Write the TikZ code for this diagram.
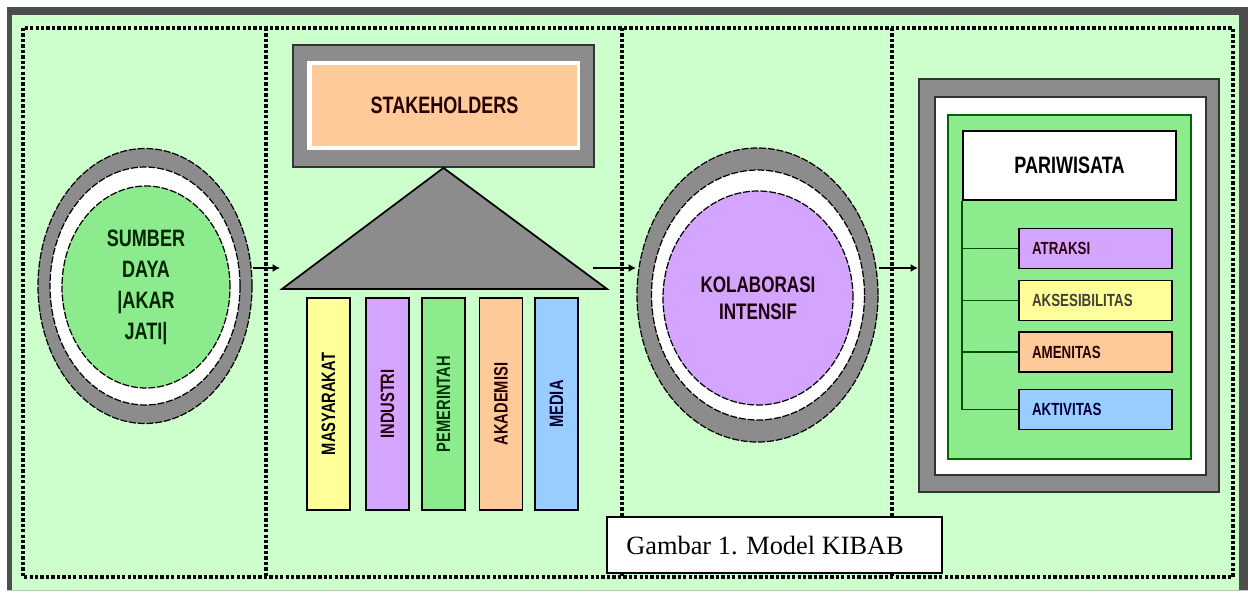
\documentclass[tikz,border=0pt]{standalone}
\usepackage{fontspec}
\setmainfont{Liberation Serif}
\newfontfamily\nar[FakeStretch=0.76]{Liberation Sans}
\usetikzlibrary{shapes.geometric,arrows.meta}
\newdimen\pxu \pxu=0.02cm
\definecolor{bgc}{HTML}{CCFFCC}
\definecolor{framec}{HTML}{4D4D4D}
\definecolor{ringc}{HTML}{8C8C8C}
\definecolor{greenc}{HTML}{8CEB8C}
\definecolor{purplec}{HTML}{D4A5FF}
\definecolor{yellowc}{HTML}{FFFF99}
\definecolor{orangec}{HTML}{FFCA99}
\definecolor{bluec}{HTML}{99CCFF}
\tikzset{
  dotframe/.style={line width=1.9pt, dash pattern=on 1.9pt off 1.2pt, draw=black},
  ring/.style={ellipse, draw=black, dash pattern=on 4pt off 1pt, line width=0.7pt, inner sep=0pt},
  bar/.style={draw=black, line width=1pt, rotate=90, minimum width=212\pxu, minimum height=43\pxu, inner sep=0pt, font=\nar\bfseries\fontsize{11}{13}\selectfont},
  item/.style={draw=black, line width=1pt, minimum height=40\pxu, text width=127\pxu, inner xsep=13\pxu, align=left, font=\nar\bfseries\fontsize{10}{12}\selectfont},
  arr/.style={-{Latex[length=4.2pt,width=4.6pt]}, line width=0.8pt},
  branch/.style={draw=black!70!green, line width=0.8pt}
}
\begin{document}
\begin{tikzpicture}[x=0.02cm,y=-0.02cm]
\useasboundingbox (0,0) rectangle (1248,592);
\fill[white] (0,0) rectangle (1248,592);
% outer frame
\fill[framec] (7,7) rectangle (1248,590);
\fill[bgc] (12,15) rectangle (1239,590);
\draw[gray!50, line width=0.6pt] (7,590.5) -- (1248,590.5);
% dotted frames
\draw[dotframe] (23,28) rectangle (1233,577);
\draw[dotframe] (266,28) -- (266,577);
\draw[dotframe] (622,28) -- (622,577);
\draw[dotframe] (892,28) -- (892,577);

% SUMBER DAYA ellipse
\node[ring, fill=ringc, minimum width=214\pxu, minimum height=275\pxu] (so) at (145,286) {};
\node[ring, fill=white, minimum width=190\pxu, minimum height=238\pxu] (sw) at (145,286) {};
\node[ring, fill=greenc, minimum width=168\pxu, minimum height=202\pxu, align=center,
  font=\nar\bfseries\fontsize{13.5}{17.6}\selectfont, text=black!75!green!60!black] (si) at (146,287)
  {SUMBER\\DAYA\\|AKAR\\JATI|};

% STAKEHOLDERS
\node[draw=black!80, line width=1pt, fill=ringc, minimum width=301\pxu, minimum height=122\pxu, inner sep=0pt] (sto) at (443.5,106) {};
\node[fill=white, minimum width=273\pxu, minimum height=89\pxu, inner sep=0pt] (stw) at (443.5,105.5) {};
\node[fill=orangec, minimum width=265\pxu, minimum height=81\pxu, inner sep=0pt,
  font=\nar\bfseries\fontsize{13.5}{15}\selectfont, text=black!85!red] (st) at (444.5,105.5) {STAKEHOLDERS};
\coordinate (triA) at (sto.south);
\coordinate (triL) at (282,289);
\coordinate (triR) at (607,289);
\draw[fill=ringc, draw=black, line width=1pt] (triL) -- (triA) -- (triR) -- cycle;

% bars
\node[bar, fill=yellowc, text=black] (b1) at (328.5,404) {MASYARAKAT};
\node[bar, fill=purplec, text=black!80!purple] (b2) at (387.5,404) {INDUSTRI};
\node[bar, fill=greenc, text=black!80!green] (b3) at (443.5,404) {PEMERINTAH};
\node[bar, fill=orangec, text=black!85!red] (b4) at (501,404) {AKADEMISI};
\node[bar, fill=bluec, text=black!80!blue] (b5) at (556.5,404) {MEDIA};

% KOLABORASI ellipse
\node[ring, fill=ringc, minimum width=241\pxu, minimum height=294\pxu] (ko) at (757.5,295) {};
\node[ring, fill=white, minimum width=213\pxu, minimum height=250\pxu] (kw) at (758,295) {};
\node[ring, fill=purplec, minimum width=190\pxu, minimum height=214\pxu, align=center,
  font=\nar\bfseries\fontsize{12.8}{15.4}\selectfont, text=black!85!purple] (ki) at (758,298)
  {KOLABORASI\\INTENSIF};

% PARIWISATA
\node[draw=black!80, line width=1.2pt, fill=ringc, minimum width=300\pxu, minimum height=413\pxu, inner sep=0pt] (po) at (1069,285.5) {};
\node[draw=black!80, line width=1pt, fill=white, minimum width=271\pxu, minimum height=378\pxu, inner sep=0pt] (pw) at (1070.5,286) {};
\node[draw=black!60!green, line width=0.8pt, fill=greenc, minimum width=243\pxu, minimum height=344\pxu, inner sep=0pt] (pg) at (1069.5,287) {};
\node[draw=black, line width=1pt, fill=white, minimum width=213\pxu, minimum height=69\pxu, inner sep=0pt,
  font=\nar\bfseries\fontsize{13.5}{15}\selectfont] (pari) at (1069.5,165.5) {PARIWISATA};
\node[item, fill=purplec, text=black!75!purple] (i1) at (1095.5,248.5) {ATRAKSI};
\node[item, fill=yellowc, text=black!85!yellow] (i2) at (1095.5,300.5) {AKSESIBILITAS};
\node[item, fill=orangec, text=black!85!red] (i3) at (1095.5,352) {AMENITAS};
\node[item, fill=bluec, text=black!80!blue] (i4) at (1095.5,409.5) {AKTIVITAS};
\draw[branch] (pari.south west) -- (pari.south west |- i4.west);
\foreach \i in {1,2,3,4} \draw[branch] (pari.south west |- i\i.west) -- (i\i.west);

% arrows
\coordinate (a1) at (280,268);
\draw[arr] (a1 -| so.east) -- (a1);
\coordinate (a2s) at (593,268);
\coordinate (a2) at (636,268);
\draw[arr] (a2s) -- (a2);
\coordinate (a3) at (918,268);
\draw[arr] (a3 -| ko.east) -- (a3);

% caption
\node[draw=black, line width=0.8pt, fill=white, minimum width=335\pxu, minimum height=56\pxu, inner sep=0pt] (cap) at (774.5,545) {};
\node[anchor=west, font=\fontsize{15}{18}\selectfont, inner sep=0pt] (captext) at (626,546) {Gambar 1. Model KIBAB};
\end{tikzpicture}
\end{document}
